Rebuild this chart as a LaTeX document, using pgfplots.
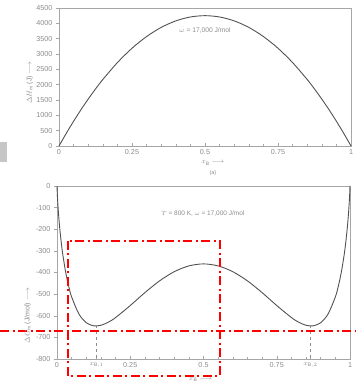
\documentclass[border=0pt]{standalone}
\usepackage{pgfplots}
\pgfplotsset{compat=1.18}
\usepackage{fontspec}
\setmainfont{Liberation Sans}
\definecolor{txt}{gray}{0.55}
\definecolor{crv}{gray}{0.32}
\definecolor{frm}{gray}{0.65}
\begin{document}
\begin{tikzpicture}
\useasboundingbox (0pt,0pt) rectangle (356pt,383pt);
\fill[gray!45] (0pt,221pt) rectangle (7pt,241pt);
\pgfplotsset{
  common/.style={
    scale only axis, clip=false,
    axis line style={frm, line width=0.6pt},
    tick style={frm, line width=0.5pt},
    xmin=0, xmax=1,
    x tick label style={font=\fontsize{7.2}{8}\selectfont, text=txt},
    y tick label style={font=\fontsize{7.2}{8}\selectfont, text=txt},
    /pgf/number format/assume math mode=true,
    xtick pos=bottom, ytick pos=left,
    xtick align=inside, ytick align=outside,
    major tick length=3pt, minor tick length=2pt,
    minor xtick={0.05,0.1,...,0.95},
    label style={text=txt, font=\fontsize{7}{8}\selectfont},
  }
}
\begin{axis}[common,
  at={(59pt,237pt)}, anchor=south west, width=292pt, height=138pt,
  ymin=0, ymax=4500, ytick={0,500,...,4500},
  xtick={0,0.25,0.5,0.75,1}, xticklabels={0,0.25,0.5,0.75,1},
  scaled y ticks=false,
  yticklabel style={/pgf/number format/1000 sep={}},
  ylabel={$\Delta H_{\mathrm{m}}$ (J) $\longrightarrow$},
  ylabel style={at={(axis description cs:-0.10,0.46)}, anchor=center},
]
\addplot[crv, line width=0.9pt, smooth] coordinates {
(0,0) (0.025,414.4) (0.05,807.5) (0.075,1179.4) (0.1,1530) (0.125,1859.4) (0.15,2167.5) (0.2,2720) (0.25,3187.5) (0.3,3570) (0.35,3867.5) (0.4,4080) (0.45,4207.5) (0.5,4250)
(0.55,4207.5) (0.6,4080) (0.65,3867.5) (0.7,3570) (0.75,3187.5) (0.8,2720) (0.85,2167.5) (0.875,1859.4) (0.9,1530) (0.925,1179.4) (0.95,807.5) (0.975,414.4) (1,0)};
\node[text=txt, font=\fontsize{6.7}{7}\selectfont] at (axis cs:0.5,3780) {$\omega$ = 17,000 J/mol};
\node[text=txt, font=\fontsize{7}{7}\selectfont] at (axis cs:0.527,-554) {$x_{\mathrm{B}}$ $\longrightarrow$};
\node[text=txt, font=\fontsize{5.5}{6}\selectfont] at (axis cs:0.527,-880) {(a)};
\end{axis}
\begin{axis}[common,
  at={(57pt,24pt)}, anchor=south west, width=293pt, height=173pt,
  ymin=-800, ymax=0, ytick={-800,-700,...,0},
  xtick={0,0.135,0.25,0.5,0.75,0.865,1},
  xticklabels={0,$x_{\mathrm{B},1}$,0.25,0.5,0.75,$x_{\mathrm{B},2}$,1},
  ylabel={$\Delta G_{\mathrm{m}}$ (J/mol) $\longrightarrow$},
  ylabel style={at={(axis description cs:-0.10,0.25)}, anchor=center},
]
\addplot[crv, line width=0.9pt, smooth] coordinates {
(0,0) (0.001,-35.6) (0.0025,-73.8) (0.005,-124.8) (0.0075,-167.3) (0.01,-204.2) (0.015,-266.8) (0.02,-318.9) (0.03,-401.5) (0.04,-464.3) (0.05,-512.9) (0.075,-592.4) (0.1,-632.2) (0.125,-646.5) (0.15,-644.0) (0.175,-629.9) (0.2,-608.3) (0.25,-552.7) (0.3,-493.0) (0.35,-438.8) (0.4,-396.3) (0.45,-369.5) (0.5,-360.2)
(0.55,-369.5) (0.6,-396.3) (0.65,-438.8) (0.7,-493.0) (0.75,-552.7) (0.8,-608.3) (0.825,-629.9) (0.85,-644.0) (0.875,-646.5) (0.9,-632.2) (0.925,-592.4) (0.95,-512.9) (0.96,-464.3) (0.97,-401.5) (0.98,-318.9) (0.985,-266.8) (0.99,-204.2) (0.9925,-167.3) (0.995,-124.8) (0.9975,-73.8) (0.999,-35.6) (1,0)};
\addplot[txt, dashed, line width=0.5pt] coordinates {(0.135,-645) (0.135,-800)};
\addplot[txt, dashed, line width=0.5pt] coordinates {(0.865,-645) (0.865,-800)};
\node[text=txt, font=\fontsize{6.5}{7}\selectfont] at (axis cs:0.498,-129) {$T$ = 800 K, $\omega$ = 17,000 J/mol};
\node[text=txt, font=\fontsize{7}{7}\selectfont] at (axis cs:0.49,-897) {$x_{\mathrm{B}}$ $\longrightarrow$};
\draw[red, line width=1.5pt, dash pattern=on 9pt off 3.5pt on 2pt off 3.5pt]
  (axis cs:0.0375,-254) rectangle (axis cs:0.556,-879);
\draw[red, line width=1.5pt, dash pattern=on 9pt off 3.5pt on 2pt off 3.5pt]
  (axis cs:-0.1945,-670.5) -- (axis cs:1.0205,-670.5);
\end{axis}
\end{tikzpicture}
\end{document}
